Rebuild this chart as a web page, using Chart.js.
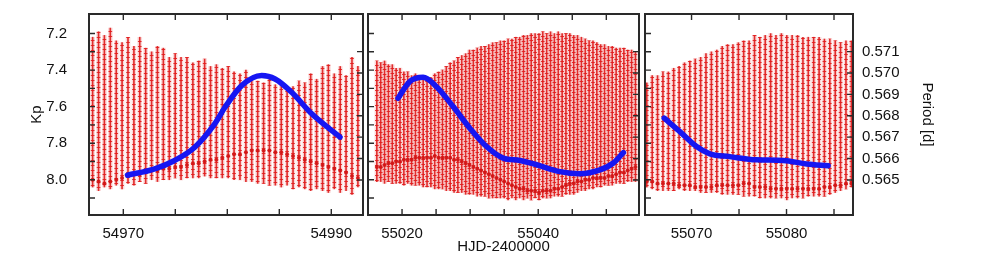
<!DOCTYPE html>
<html><head><meta charset="utf-8">
<script src="https://cdn.jsdelivr.net/npm/chart.js@4.4.1/dist/chart.umd.min.js"></script>
<style>
html,body{margin:0;padding:0;background:#fff;}
#wrap{position:relative;width:981px;height:262px;overflow:hidden;}
#wrap canvas{position:absolute;left:0;top:0;}
</style>
</head><body>
<div id="wrap">
<canvas id="c1" width="981" height="262"></canvas>
<canvas id="c2" width="981" height="262"></canvas>
<canvas id="c3" width="981" height="262"></canvas>
</div>
<script>
// ---------- tick labels ----------
const kpTicks = [7.2,7.3,7.4,7.5,7.6,7.7,7.8,7.9,8.0,8.1];
const kpLabels = [7.2,7.4,7.6,7.8,8.0];
const periodTicks = [0.565,0.566,0.567,0.568,0.569,0.570,0.571];
const p1XTicks = [54970,54975,54980,54985,54990];
const p1XLabels = [54970,54990];
const p2XTicks = [55020,55025,55030,55035,55040,55045,55050];
const p2XLabels = [55020,55040];
const p3XTicks = [55070,55075,55080,55085];
const p3XLabels = [55070,55080];

// ---------- panel 1 : pulsation cycles (time of rise, Kp at maximum, Kp at minimum, Kp of dense minimum clump) ----------
const p1Time = [54967.05,54967.62,54968.18,54968.75,54969.32,54969.88,54970.45,54971.02,54971.58,54972.15,54972.72,54973.28,54973.85,54974.42,54974.99,54975.55,54976.12,54976.69,54977.25,54977.82,54978.39,54978.95,54979.52,54980.09,54980.65,54981.22,54981.79,54982.35,54982.92,54983.49,54984.05,54984.62,54985.19,54985.75,54986.32,54986.89,54987.45,54988.02,54988.59,54989.16,54989.72,54990.29,54990.86,54991.42,54991.99,54992.56];
const p1Max = [7.22,7.19,7.21,7.17,7.24,7.25,7.22,7.27,7.22,7.28,7.30,7.27,7.28,7.33,7.31,7.33,7.33,7.36,7.35,7.34,7.38,7.37,7.39,7.38,7.41,7.42,7.40,7.44,7.46,7.47,7.45,7.48,7.47,7.50,7.49,7.46,7.47,7.42,7.45,7.38,7.37,7.42,7.38,7.43,7.33,7.38];
const p1Min = [8.04,8.06,8.04,8.05,8.03,8.05,8.02,8.03,8.01,8.02,8.00,8.01,8.00,8.00,7.99,8.00,7.99,7.99,7.99,7.98,7.99,7.99,7.99,7.99,8.00,8.00,8.01,8.01,8.02,8.02,8.03,8.03,8.04,8.03,8.05,8.04,8.05,8.06,8.05,8.06,8.07,8.05,8.07,8.06,8.08,8.04];
const p1Clump = [8.00,8.01,8.02,8.01,8.00,7.99,7.98,7.97,7.97,7.96,7.95,7.95,7.94,7.94,7.93,7.93,7.92,7.91,7.91,7.90,7.89,7.89,7.88,7.87,7.86,7.86,7.85,7.84,7.84,7.84,7.84,7.85,7.85,7.86,7.87,7.88,7.89,7.90,7.91,7.92,7.93,7.94,7.95,7.96,7.98,7.99];

// ---------- panel 2 ----------
const p2Time = [55016.30,55016.87,55017.43,55018.00,55018.57,55019.13,55019.70,55020.27,55020.83,55021.40,55021.97,55022.53,55023.10,55023.67,55024.24,55024.80,55025.37,55025.94,55026.50,55027.07,55027.64,55028.20,55028.77,55029.34,55029.90,55030.47,55031.04,55031.60,55032.17,55032.74,55033.30,55033.87,55034.44,55035.00,55035.57,55036.14,55036.70,55037.27,55037.84,55038.41,55038.97,55039.54,55040.11,55040.67,55041.24,55041.81,55042.37,55042.94,55043.51,55044.07,55044.64,55045.21,55045.77,55046.34,55046.91,55047.47,55048.04,55048.61,55049.17,55049.74,55050.31,55050.87,55051.44,55052.01,55052.58,55053.14,55053.71,55054.28];
const p2Max = [7.35,7.36,7.35,7.37,7.37,7.39,7.39,7.41,7.41,7.43,7.42,7.44,7.45,7.44,7.44,7.42,7.41,7.40,7.38,7.36,7.35,7.33,7.32,7.31,7.29,7.29,7.28,7.27,7.27,7.26,7.25,7.25,7.24,7.24,7.23,7.23,7.22,7.22,7.21,7.21,7.20,7.20,7.20,7.19,7.20,7.19,7.20,7.19,7.20,7.20,7.20,7.21,7.21,7.22,7.23,7.24,7.24,7.25,7.26,7.26,7.27,7.27,7.28,7.28,7.28,7.29,7.29,7.30];
const p2Min = [8.01,8.01,8.02,8.01,8.02,8.02,8.02,8.03,8.02,8.03,8.03,8.03,8.04,8.04,8.04,8.05,8.05,8.05,8.06,8.06,8.07,8.07,8.07,8.08,8.08,8.08,8.09,8.09,8.09,8.10,8.10,8.10,8.10,8.10,8.11,8.10,8.11,8.10,8.11,8.10,8.11,8.10,8.11,8.10,8.10,8.10,8.09,8.09,8.09,8.08,8.08,8.08,8.07,8.06,8.06,8.05,8.05,8.04,8.04,8.03,8.03,8.03,8.02,8.02,8.02,8.01,8.01,8.01];
const p2Clump = [7.93,7.93,7.92,7.91,7.91,7.90,7.90,7.89,7.89,7.89,7.88,7.88,7.88,7.88,7.88,7.87,7.88,7.88,7.88,7.88,7.89,7.89,7.90,7.91,7.92,7.93,7.94,7.95,7.96,7.97,7.98,7.99,8.00,8.01,8.02,8.03,8.04,8.05,8.05,8.06,8.06,8.06,8.07,8.06,8.06,8.06,8.05,8.05,8.04,8.03,8.02,8.02,8.01,8.01,8.00,8.00,7.99,7.99,7.99,7.99,7.98,7.98,7.97,7.96,7.96,7.95,7.94,7.93];

// ---------- panel 3 ----------
const p3Time = [55065.29,55065.86,55066.42,55066.99,55067.56,55068.12,55068.69,55069.26,55069.82,55070.39,55070.96,55071.52,55072.09,55072.66,55073.23,55073.79,55074.36,55074.93,55075.49,55076.06,55076.63,55077.19,55077.76,55078.33,55078.89,55079.46,55080.03,55080.59,55081.16,55081.73,55082.29,55082.86,55083.43,55083.99,55084.56,55085.13,55085.69,55086.26,55086.83];
const p3Max = [7.47,7.43,7.43,7.41,7.41,7.39,7.38,7.36,7.35,7.34,7.33,7.31,7.30,7.29,7.27,7.26,7.26,7.25,7.24,7.24,7.21,7.22,7.21,7.20,7.21,7.20,7.21,7.21,7.21,7.22,7.22,7.22,7.22,7.23,7.23,7.24,7.25,7.24,7.24];
const p3Min = [8.04,8.05,8.06,8.06,8.06,8.06,8.05,8.06,8.06,8.06,8.07,8.07,8.07,8.07,8.08,8.08,8.08,8.08,8.09,8.09,8.09,8.10,8.10,8.10,8.10,8.10,8.11,8.10,8.10,8.10,8.09,8.09,8.09,8.09,8.08,8.07,8.06,8.05,8.04];
const p3Clump = [8.01,8.01,8.02,8.02,8.02,8.02,8.03,8.03,8.03,8.04,8.04,8.04,8.04,8.03,8.03,8.03,8.03,8.03,8.02,8.02,8.04,8.04,8.04,8.05,8.05,8.05,8.05,8.05,8.05,8.05,8.05,8.05,8.05,8.04,8.04,8.03,8.03,8.02,8.02];

// ---------- pulsation period (blue curve) ----------
const p1PerTime = [54970.40,54973.02,54974.94,54976.87,54978.79,54979.78,54981.38,54983.31,54984.59,54986.19,54988.12,54990.84];
const p1Period = [0.56522,0.56552,0.56591,0.56653,0.56762,0.56840,0.56941,0.56988,0.56972,0.56910,0.56809,0.56700];
const p2PerTime = [55019.41,55021.13,55023.09,55025.06,55027.50,55029.96,55032.41,55034.85,55037.31,55039.76,55043.19,55046.13,55049.07,55051.03,55052.50];
const p2Period = [0.56882,0.56960,0.56980,0.56936,0.56843,0.56742,0.56656,0.56602,0.56591,0.56571,0.56539,0.56529,0.56547,0.56579,0.56628];
const p3PerTime = [55067.12,55068.77,55070.53,55071.93,55074.03,55076.84,55079.64,55082.11,55084.38];
const p3Period = [0.56789,0.56726,0.56656,0.56622,0.56609,0.56594,0.56591,0.56575,0.56566];

// ---------- styling ----------
const FONT = "'Liberation Sans', Arial, Helvetica, sans-serif";
Chart.defaults.font.family = FONT;
Chart.defaults.font.size = 15;
Chart.defaults.color = '#111';

const capCanvas = document.createElement('canvas');
capCanvas.width = 3; capCanvas.height = 5;
(function(){ const g = capCanvas.getContext('2d'); g.fillStyle = 'rgba(226,30,30,0.9)'; g.fillRect(0,0,3,1); })();

function capFill(c){
  if (c.type !== 'data') return 'rgba(226,30,30,0.4)';
  const p = c.chart.ctx.createPattern(capCanvas, 'repeat');
  if (p.setTransform) p.setTransform(new DOMMatrix().translate(0, (c.dataIndex * 2) % 5));
  return p;
}

function noPad(s){ s.paddingTop = 0; s.paddingBottom = 0; s.paddingLeft = 0; s.paddingRight = 0; }

const frame = {
  id: 'frame',
  afterDatasetsDraw(chart){
    const {ctx, chartArea: a, scales} = chart;
    const L = 6;
    ctx.save();
    ctx.strokeStyle = '#2a2a2a';
    ctx.lineWidth = 1.4;
    ctx.beginPath();
    scales.x.ticks.forEach(t => { const p = scales.x.getPixelForValue(t.value);
      ctx.moveTo(p, a.bottom); ctx.lineTo(p, a.bottom - L); ctx.moveTo(p, a.top); ctx.lineTo(p, a.top + L); });
    scales.y.ticks.forEach(t => { const p = scales.y.getPixelForValue(t.value);
      ctx.moveTo(a.left, p); ctx.lineTo(a.left + L, p); });
    scales.y2.ticks.forEach(t => { const p = scales.y2.getPixelForValue(t.value);
      ctx.moveTo(a.right, p); ctx.lineTo(a.right - L, p); });
    ctx.stroke();
    ctx.lineWidth = 2;
    ctx.strokeRect(a.left, a.top, a.right - a.left, a.bottom - a.top);
    ctx.restore();
  }
};

function makePanel(id, o){
  const band = o.t.map((t, i) => ({x: t, y: [o.max[i], o.min[i]]}));
  const clump = o.t.map((t, i) => ({x: t, y: o.clump[i]}));
  const per = o.pt.map((t, i) => ({x: t, y: o.per[i]}));
  new Chart(document.getElementById(id), {
    type: 'bar',
    data: { datasets: [
      {type: 'line', data: per, yAxisID: 'y2', borderColor: 'rgb(22,22,242)', borderWidth: 5.5,
       pointRadius: 0, cubicInterpolationMode: 'monotone', borderCapStyle: 'round', order: 0},
      {type: 'line', data: clump, yAxisID: 'y', showLine: false, pointRadius: 2,
       pointBackgroundColor: 'rgba(210,20,20,0.9)', pointBorderWidth: 0, order: 1},
      {data: band, yAxisID: 'y', barThickness: 3, backgroundColor: capFill, grouped: false, order: 2},
      {data: band, yAxisID: 'y', barThickness: 1, backgroundColor: 'rgba(222,28,28,0.9)', grouped: false, order: 3},
      {data: band, yAxisID: 'y', barThickness: 4, backgroundColor: 'rgba(238,120,120,0.28)', grouped: false, order: 4}
    ]},
    options: {
      responsive: false, animation: false, devicePixelRatio: 1, events: [],
      layout: {padding: o.pad},
      plugins: {legend: {display: false}, tooltip: {enabled: false}},
      scales: {
        x: {type: 'linear', position: 'bottom', min: o.xmin, max: o.xmax, offset: false,
            grid: {display: false, drawTicks: false}, border: {display: false},
            afterBuildTicks: s => { s.ticks = o.xt.map(v => ({value: v})); },
            afterFit: s => { s.height = 45; noPad(s); },
            ticks: {autoSkip: false, maxRotation: 0, padding: 10, color: '#111',
                    callback: v => o.xl.includes(v) ? String(v) : ''},
            title: {display: !!o.xtitle, text: o.xtitle || '', color: '#111', font: {size: 15}}},
        y: {type: 'linear', position: 'left', reverse: true, min: 7.093, max: 8.193,
            grid: {display: false, drawTicks: false}, border: {display: false},
            afterBuildTicks: s => { s.ticks = kpTicks.map(v => ({value: v})); },
            afterFit: s => { s.width = o.yw; noPad(s); },
            ticks: {display: !!o.ylab, padding: 22, color: '#111',
                    callback: v => kpLabels.includes(v) ? v.toFixed(1) : ''},
            title: {display: !!o.ylab, text: 'Kp', color: '#111', font: {size: 15}}},
        y2: {type: 'linear', position: 'right', min: 0.56336, max: 0.57276,
            grid: {display: false, drawTicks: false}, border: {display: false},
            afterBuildTicks: s => { s.ticks = periodTicks.map(v => ({value: v})); },
            afterFit: s => { s.width = o.y2w; noPad(s); },
            ticks: {display: !!o.y2lab, padding: 9, color: '#111', callback: v => v.toFixed(3)},
            title: {display: !!o.y2lab, text: 'Period [d]', color: '#111', font: {size: 15}}}
      }
    },
    plugins: [frame]
  });
}

makePanel('c1', {t: p1Time, max: p1Max, min: p1Min, clump: p1Clump, pt: p1PerTime, per: p1Period,
  xmin: 54966.7, xmax: 54993.05, xt: p1XTicks, xl: p1XLabels,
  pad: {left: 24, right: 618, top: 14, bottom: 2}, yw: 65, y2w: 0, ylab: true, y2lab: false});
makePanel('c2', {t: p2Time, max: p2Max, min: p2Min, clump: p2Clump, pt: p2PerTime, per: p2Period,
  xmin: 55015.0, xmax: 55054.8, xt: p2XTicks, xl: p2XLabels, xtitle: 'HJD-2400000',
  pad: {left: 368, right: 342, top: 14, bottom: 2}, yw: 0, y2w: 0, ylab: false, y2lab: false});
makePanel('c3', {t: p3Time, max: p3Max, min: p3Min, clump: p3Clump, pt: p3PerTime, per: p3Period,
  xmin: 55065.1, xmax: 55087.0, xt: p3XTicks, xl: p3XLabels,
  pad: {left: 645, right: 41, top: 14, bottom: 2}, yw: 0, y2w: 87, ylab: false, y2lab: true});
</script>
</body></html>
